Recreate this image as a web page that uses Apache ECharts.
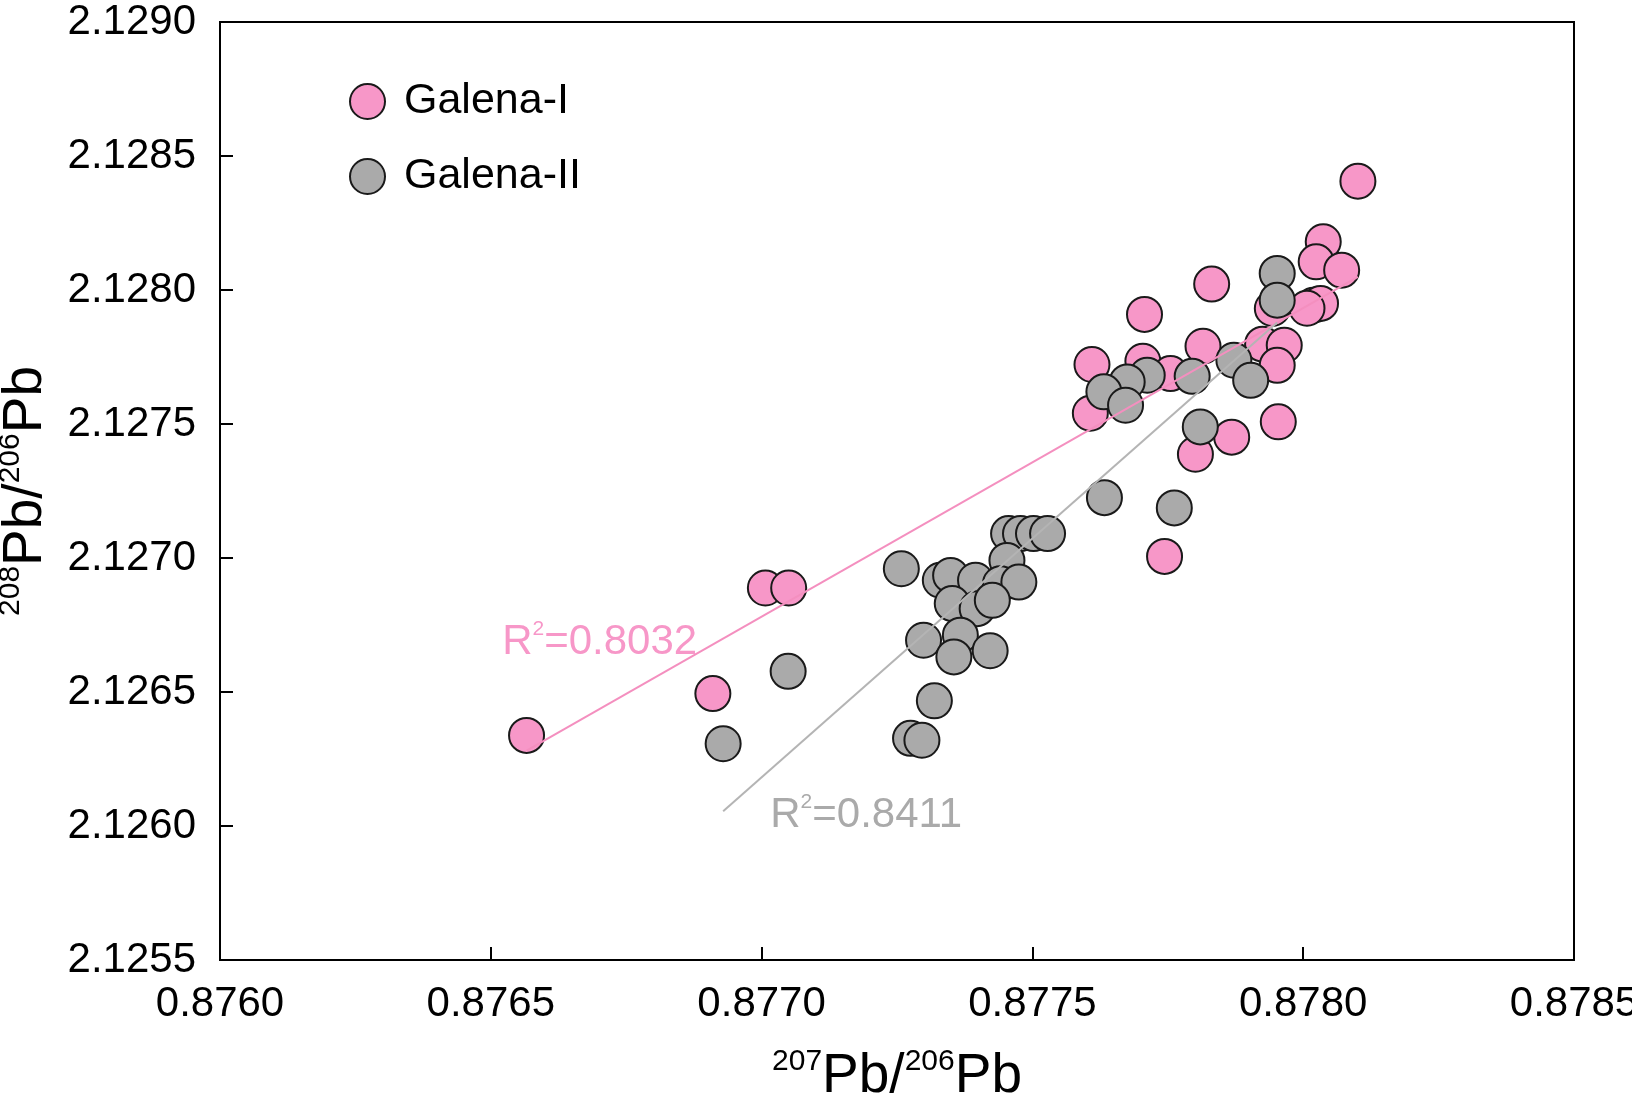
<!DOCTYPE html>
<html>
<head>
<meta charset="utf-8">
<title>Galena Pb isotopes</title>
<script src="https://cdn.jsdelivr.net/npm/echarts@6/dist/echarts.min.js"></script>
<style>
  html, body { margin: 0; padding: 0; background: #fff; }
  #chart { width: 1632px; height: 1103px; }
</style>
</head>
<body>
<div id="chart"></div>
<script>
// 207Pb/206Pb and 208Pb/206Pb for the two galena generations
const galenaI_x = [
  0.878101, 0.878037, 0.878024, 0.878071, 0.878019, 0.878032, 0.878007, 0.877943,
  0.877831, 0.877707, 0.877815, 0.877925, 0.877965, 0.877952, 0.877610, 0.877704,
  0.877755, 0.877607, 0.877868, 0.877801, 0.877954, 0.877744, 0.877007, 0.877050,
  0.876910, 0.876566
];
const galenaI_y = [
  2.128406, 2.128180, 2.128105, 2.128074, 2.127943, 2.127950, 2.127932, 2.127931,
  2.128022, 2.127909, 2.127790, 2.127798, 2.127794, 2.127719, 2.127722, 2.127734,
  2.127688, 2.127540, 2.127451, 2.127387, 2.127508, 2.127006, 2.126888, 2.126888,
  2.126494, 2.126338
];
const galenaII_x = [
  0.877952, 0.877952, 0.877872, 0.877903, 0.877795, 0.877712, 0.877675, 0.877632,
  0.877672, 0.877810, 0.877633, 0.877762, 0.877456, 0.877478, 0.877502, 0.877528,
  0.877453, 0.877258, 0.877330, 0.877349, 0.877395, 0.877441, 0.877475, 0.877352,
  0.877398, 0.877426, 0.877299, 0.877367, 0.877355, 0.877422, 0.877319, 0.877275,
  0.877296, 0.877049, 0.876929
];
const galenaII_y = [
  2.128062, 2.127962, 2.127738, 2.127663, 2.127678, 2.127682, 2.127657, 2.127620,
  2.127570, 2.127489, 2.127225, 2.127187, 2.127091, 2.127091, 2.127091, 2.127091,
  2.126991, 2.126960, 2.126917, 2.126935, 2.126917, 2.126904, 2.126910, 2.126830,
  2.126811, 2.126842, 2.126693, 2.126712, 2.126631, 2.126654, 2.126467, 2.126327,
  2.126320, 2.126577, 2.126307
];
const seriesNames = ['Galena-I', 'Galena-II'];
const rSquared = ['0.8032', '0.8411'];

const PINK = '#f797c8';
const GRAY = '#aaaaaa';
const FONT = '"Liberation Sans", Arial, sans-serif';

function pairs(xs, ys) { return xs.map((x, i) => [x, ys[i]]); }

// least-squares line over the x-range of one group
function fitLine(xs, ys) {
  const n = xs.length;
  const mx = xs.reduce((a, b) => a + b, 0) / n;
  const my = ys.reduce((a, b) => a + b, 0) / n;
  let sxy = 0, sxx = 0;
  for (let i = 0; i < n; i++) { sxy += (xs[i] - mx) * (ys[i] - my); sxx += (xs[i] - mx) ** 2; }
  const b = sxy / sxx, a = my - b * mx;
  const x0 = Math.min(...xs), x1 = Math.max(...xs);
  return [[x0, a + b * x0], [x1, a + b * x1]];
}

const chart = echarts.init(document.getElementById('chart'), null, { renderer: 'canvas' });

const markerStyle = (fill) => ({ color: fill, borderColor: '#1a1a1a', borderWidth: 2, opacity: 1 });

const titleRich = {
  b: { fontFamily: FONT, fontSize: 55, color: '#000', lineHeight: 60, verticalAlign: 'middle' },
  s: { fontFamily: FONT, fontSize: 30, color: '#000', lineHeight: 30, verticalAlign: 'top' }
};

const option = {
  backgroundColor: '#fff',
  animation: false,
  grid: {
    left: 220, right: 58, top: 22, bottom: 143,
    outerBoundsMode: 'none', containLabel: false,
    show: true, borderColor: '#000', borderWidth: 2, backgroundColor: 'transparent'
  },
  legend: {
    orient: 'vertical', left: 344, top: 75, itemWidth: 35, itemHeight: 35, itemGap: 32,
    icon: 'circle',
    data: [
      { name: seriesNames[0], itemStyle: markerStyle(PINK) },
      { name: seriesNames[1], itemStyle: markerStyle(GRAY) }
    ],
    textStyle: { fontFamily: FONT, fontSize: 43, lineHeight: 35, color: '#000', padding: [0, 0, 0, 14] }
  },
  xAxis: {
    type: 'value', min: 0.876, max: 0.8785, interval: 0.0005,
    axisLine: { show: true, lineStyle: { color: '#000', width: 2 } },
    axisTick: { show: true, inside: true, length: 13, lineStyle: { color: '#000', width: 2 } },
    splitLine: { show: false },
    axisLabel: { fontFamily: FONT, fontSize: 42, color: '#000', margin: 23, formatter: v => v.toFixed(4) },
    name: '{s|207}{b|Pb/}{s|206}{b|Pb}', nameLocation: 'middle', nameGap: 87,
    nameTextStyle: { rich: titleRich }
  },
  yAxis: {
    type: 'value', min: 2.1255, max: 2.129, interval: 0.0005,
    axisLine: { show: true, lineStyle: { color: '#000', width: 2 } },
    axisTick: { show: true, inside: true, length: 13, lineStyle: { color: '#000', width: 2 } },
    splitLine: { show: false },
    axisLabel: { fontFamily: FONT, fontSize: 42, color: '#000', margin: 24, formatter: v => v.toFixed(4) },
    name: '{s|208}{b|Pb/}{s|206}{b|Pb}', nameLocation: 'middle', nameGap: 164, nameRotate: 90,
    nameTextStyle: { rich: titleRich }
  },
  series: [
    {
      name: seriesNames[0], type: 'scatter', symbol: 'circle', symbolSize: 35,
      itemStyle: markerStyle(PINK), data: pairs(galenaI_x, galenaI_y), z: 2
    },
    {
      name: seriesNames[1], type: 'scatter', symbol: 'circle', symbolSize: 35,
      itemStyle: markerStyle(GRAY), data: pairs(galenaII_x, galenaII_y), z: 3
    },
    {
      name: 'fit-I', type: 'line', data: fitLine(galenaI_x, galenaI_y), symbol: 'none', silent: true,
      lineStyle: { color: '#f48fbf', width: 2 }, z: 4
    },
    {
      name: 'fit-II', type: 'line', data: fitLine(galenaII_x, galenaII_y), symbol: 'none', silent: true,
      lineStyle: { color: '#b4b4b4', width: 2 }, z: 4
    }
  ]
};
chart.setOption(option);

// R² annotations anchored in data space
const labelAnchors = [
  { at: [0.876521, 2.126685], color: PINK, r2: rSquared[0] },
  { at: [0.877016, 2.126040], color: GRAY, r2: rSquared[1] }
];
chart.setOption({
  graphic: labelAnchors.map(l => {
    const p = chart.convertToPixel({ gridIndex: 0 }, l.at);
    return {
      type: 'text', left: p[0], top: p[1] - 24, z: 10,
      style: {
        text: '{a|R}{s|2}{a|=' + l.r2 + '}',
        rich: {
          a: { fontFamily: FONT, fontSize: 42, fill: l.color, lineHeight: 48, verticalAlign: 'middle' },
          s: { fontFamily: FONT, fontSize: 21, fill: l.color, lineHeight: 24, verticalAlign: 'top' }
        }
      }
    };
  })
});
</script>
</body>
</html>
